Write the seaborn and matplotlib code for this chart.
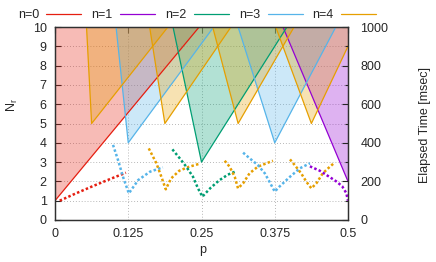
import matplotlib
matplotlib.use('Agg')
import matplotlib.pyplot as plt
from matplotlib.colors import to_rgba
from matplotlib.lines import Line2D
from matplotlib.ticker import MultipleLocator
import seaborn as sns

sns.set_style('white')
plt.rcParams['font.family'] = ['Liberation Sans', 'DejaVu Sans']
plt.rcParams['font.size'] = 9

colors = ['#e51e10', '#9400d3', '#009e73', '#56b4e9', '#e69f00']
labels = ['n=0', 'n=1', 'n=2', 'n=3', 'n=4']

# triangles: apex (p, Nr) and the p where each edge reaches Nr=10
tri_n = [0, 1, 2, 3, 3, 4, 4, 4, 4]
tri_apex_p = [0.0, 0.5, 0.25, 0.125, 0.375, 0.0625, 0.1875, 0.3125, 0.4375]
tri_apex_nr = [1, 2, 3, 4, 4, 5, 5, 5, 5]
tri_left_p = [0.0, 0.389, 0.2014, 0.1042, 0.3125, 0.0538, 0.1615, 0.2691, 0.3767]
tri_right_p = [0.246, 0.611, 0.3958, 0.2708, 0.4792, 0.1927, 0.3003, 0.4080, 0.5156]
nr_top = 10

# elapsed time curves (msec), one segment per list
seg_n = [0, 3, 4, 2, 4, 3, 4, 1]
seg_p = [
    [0.008, 0.035, 0.065, 0.093, 0.121],
    [0.099, 0.1075, 0.116, 0.126, 0.142, 0.162, 0.184],
    [0.160, 0.173, 0.1815, 0.189, 0.198, 0.212, 0.228, 0.245],
    [0.2003, 0.2128, 0.224, 0.2355, 0.244, 0.2515, 0.265, 0.28, 0.295, 0.31],
    [0.2896, 0.298, 0.3067, 0.3123, 0.321, 0.332, 0.346, 0.361, 0.372],
    [0.321, 0.332, 0.346, 0.358, 0.366, 0.375, 0.383, 0.401, 0.418, 0.435],
    [0.401, 0.409, 0.42, 0.429, 0.4375, 0.446, 0.457, 0.469, 0.477],
    [0.435, 0.452, 0.469, 0.48, 0.49, 0.497, 0.5],
]
seg_t = [
    [100, 137, 176, 211, 245],
    [389, 311, 224, 138, 207, 250, 273],
    [371, 294, 224, 159, 215, 255, 275, 290],
    [366, 320, 276, 224, 164, 121, 165, 205, 235, 254],
    [307, 276, 224, 164, 190, 242, 276, 294, 307],
    [349, 320, 285, 242, 198, 147, 173, 224, 268, 294],
    [314, 285, 242, 198, 164, 190, 242, 276, 297],
    [278, 255, 222, 200, 175, 140, 100],
]

fig = plt.figure(figsize=(4.36, 2.62), dpi=100)
ax = fig.add_axes([55 / 436, 1 - 220 / 262, 293 / 436, 193 / 262])
ax2 = ax.twinx()

for i in range(len(tri_n)):
    c = colors[tri_n[i]]
    xs = [tri_left_p[i], tri_apex_p[i], tri_right_p[i]]
    ys = [nr_top, tri_apex_nr[i], nr_top]
    ax.fill(xs, ys, facecolor=to_rgba(c, 0.3), edgecolor='none', zorder=2)
    ax.plot(xs, ys, color=c, lw=0.9, zorder=3)

for i in range(len(seg_n)):
    sns.lineplot(x=seg_p[i], y=seg_t[i], ax=ax2, color=colors[seg_n[i]],
                 lw=1.8, linestyle=(0, (1, 0.9)), legend=False)

ax.set_xlim(0, 0.5)
ax.set_ylim(0, 10)
ax2.set_ylim(0, 1000)
ax.set_xticks([0, 0.125, 0.25, 0.375, 0.5])
ax.set_xticklabels(['0', '0.125', '0.25', '0.375', '0.5'])
ax.set_yticks(range(0, 11))
ax2.set_yticks(range(0, 1001, 200))
ax2.yaxis.set_minor_locator(MultipleLocator(100))
ax.grid(True, color='#a0a0a0', lw=0.6, linestyle=(0, (1, 2.5)))
ax.tick_params(axis='x', direction='in', length=4, width=0.8, top=True, pad=6)
ax.tick_params(axis='y', direction='in', length=4, width=0.8, left=True, right=False, pad=6)
ax2.tick_params(axis='y', which='major', direction='in', length=4, width=0.8, right=True, pad=9)
ax2.tick_params(axis='y', which='minor', direction='in', length=2.5, width=0.8, right=True)
for sp in list(ax.spines.values()) + list(ax2.spines.values()):
    sp.set_color('#303030')
    sp.set_linewidth(0.9)
ax2.set_ylabel('')
ax.set_xlabel('')

fig.text(203 / 436, 1 - 250 / 262, 'p', ha='center', va='center', fontsize=9)
fig.text(12 / 436, 1 - 105 / 262, r'N$_\mathregular{r}$', ha='center', va='center',
         rotation=90, fontsize=9)
fig.text(425 / 436, 1 - 125 / 262, 'Elapsed Time [msec]', ha='center', va='center',
         rotation=90, fontsize=9)

handles = [Line2D([], [], color=c, lw=0.9) for c in colors]
fig.legend(handles, labels, loc='center', bbox_to_anchor=(197 / 436, 1 - 15 / 262),
           ncol=5, frameon=False, markerfirst=False, handlelength=2.8,
           handletextpad=0.6, columnspacing=0.8, fontsize=9)

fig.savefig('out.png', dpi=100)
